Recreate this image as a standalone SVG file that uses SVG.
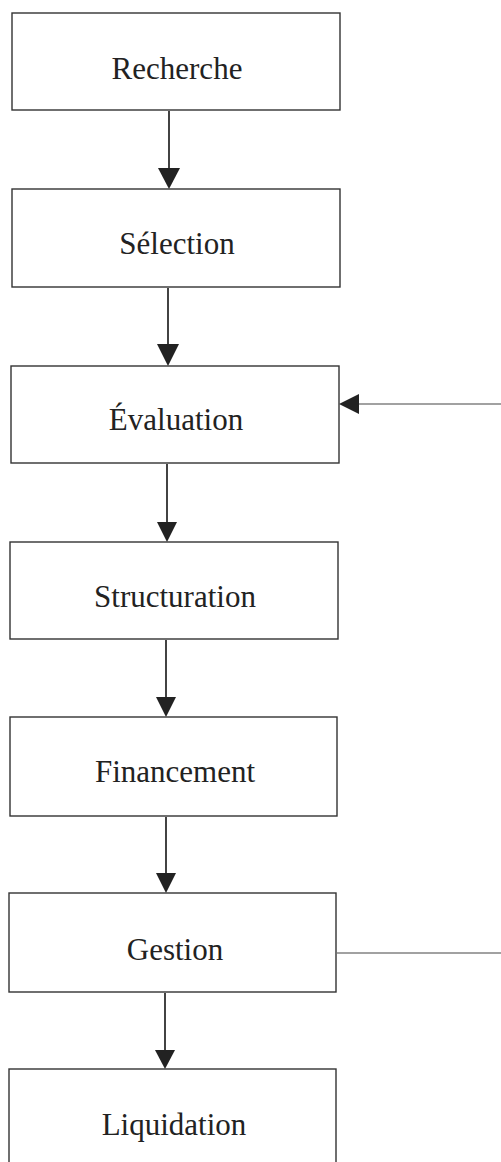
<svg xmlns="http://www.w3.org/2000/svg" width="501" height="1162" viewBox="0 0 501 1162">
<defs>
<style>
.box{fill:#fff;stroke:#333;stroke-width:1.4}
.lbl{font-family:"Liberation Serif","Times New Roman",serif;font-size:31px;fill:#222;text-anchor:middle}
.conn{stroke:#222;stroke-width:1.7;fill:none}
.thin{stroke:#444;stroke-width:1.1;fill:none}
.head{fill:#222}
</style>
</defs>
<rect width="501" height="1162" fill="#fff"/>
<g id="connectors">
<line class="conn" x1="169" y1="111" x2="169" y2="170"/>
<polygon class="head" points="158,168 180,168 169,189"/>
<line class="conn" x1="168" y1="288" x2="168" y2="346"/>
<polygon class="head" points="157,344 179,344 168,366"/>
<line class="conn" x1="167" y1="464" x2="167" y2="524"/>
<polygon class="head" points="157,522 177,522 167,542"/>
<line class="conn" x1="166" y1="640" x2="166" y2="699"/>
<polygon class="head" points="156,697 176,697 166,717"/>
<line class="conn" x1="166" y1="817" x2="166" y2="875"/>
<polygon class="head" points="156,873 176,873 166,893"/>
<line class="conn" x1="165" y1="993" x2="165" y2="1052"/>
<polygon class="head" points="155,1050 175,1050 165,1069"/>
<line class="thin" x1="357" y1="404" x2="501" y2="404"/>
<polygon class="head" points="339,404 359,394 359,414"/>
<line class="thin" x1="337" y1="953" x2="501" y2="953"/>
</g>
<g id="recherche">
<rect class="box" x="12" y="13" width="328" height="97"/>
<text class="lbl" x="177" y="79">Recherche</text>
</g>
<g id="selection">
<rect class="box" x="12" y="189" width="328" height="98"/>
<text class="lbl" x="177" y="254">Sélection</text>
</g>
<g id="evaluation">
<rect class="box" x="11" y="366" width="328" height="97"/>
<text class="lbl" x="176" y="430">Évaluation</text>
</g>
<g id="structuration">
<rect class="box" x="10" y="542" width="328" height="97"/>
<text class="lbl" x="175" y="607">Structuration</text>
</g>
<g id="financement">
<rect class="box" x="10" y="717" width="327" height="99"/>
<text class="lbl" x="175" y="782">Financement</text>
</g>
<g id="gestion">
<rect class="box" x="9" y="893" width="327" height="99"/>
<text class="lbl" x="175" y="960">Gestion</text>
</g>
<g id="liquidation">
<rect class="box" x="9" y="1069" width="327" height="120"/>
<text class="lbl" x="174" y="1135">Liquidation</text>
</g>
</svg>
